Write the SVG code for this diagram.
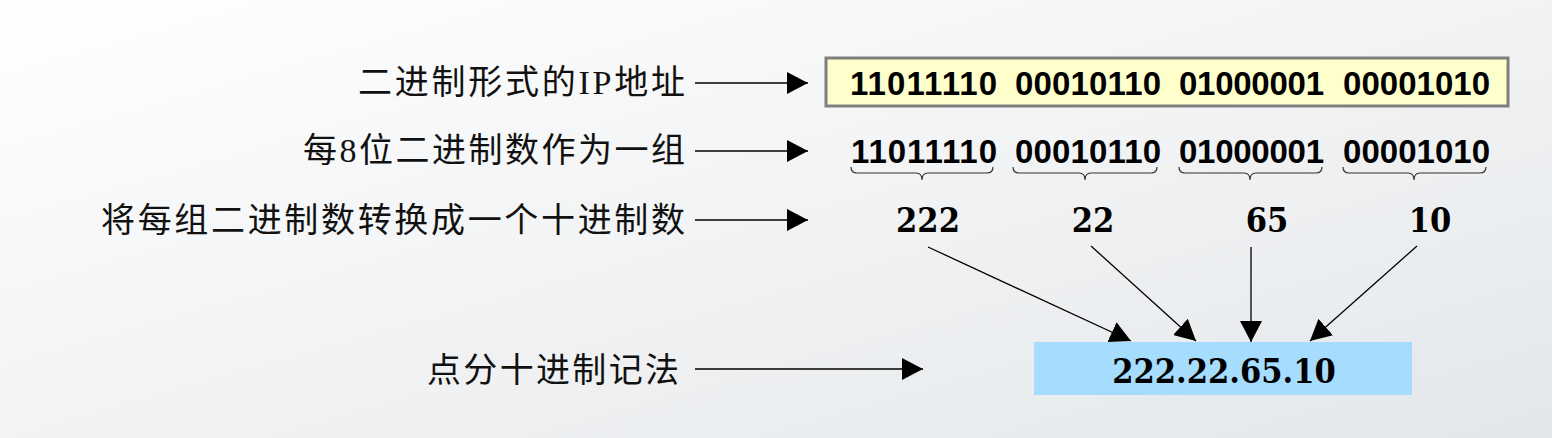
<svg xmlns="http://www.w3.org/2000/svg" width="1552" height="438" viewBox="0 0 1552 438">
<defs>
<linearGradient id="bg" x1="0" y1="0" x2="1" y2="1">
<stop offset="0" stop-color="#ffffff"/>
<stop offset="1" stop-color="#e4e7ea"/>
</linearGradient>
<marker id="ah" markerUnits="userSpaceOnUse" markerWidth="22" markerHeight="22" refX="21" refY="11" orient="auto">
<path d="M0,0 L21,11 L0,22 z" fill="#000"/>
</marker>
</defs>
<style>
.lbl{font-family:"Liberation Serif","Noto Sans CJK SC",serif;font-size:34px;fill:#111;text-anchor:end}
.bin{font-family:"Liberation Sans",Arial,sans-serif;font-weight:bold;font-size:33px;fill:#000}
.dec{font-family:"DejaVu Serif Condensed","DejaVu Serif",serif;font-stretch:condensed;font-weight:bold;font-size:34px;fill:#000;text-anchor:middle}
.ln{stroke:#000;stroke-width:1.3;fill:none;marker-end:url(#ah)}
.brace{stroke:#333;stroke-width:1.2;fill:none}
</style>
<rect x="0" y="0" width="1552" height="438" fill="url(#bg)"/>

<g id="label-binary">
<text class="lbl" x="685" y="94" textLength="327" lengthAdjust="spacing">二进制形式的IP地址</text>
</g>
<g id="label-group">
<text class="lbl" x="685" y="162" textLength="382" lengthAdjust="spacing">每8位二进制数作为一组</text>
</g>
<g id="label-convert">
<text class="lbl" x="685" y="232" textLength="584" lengthAdjust="spacing">将每组二进制数转换成一个十进制数</text>
</g>
<g id="label-dotted">
<text class="lbl" x="679" y="382" textLength="252" lengthAdjust="spacing">点分十进制记法</text>
</g>

<g id="binary-box">
<rect x="826" y="58" width="682" height="48" fill="#ffffcc" stroke="#7f7f7f" stroke-width="3"/>
<text class="bin" x="850" y="95" textLength="147" lengthAdjust="spacing">11011110</text>
<text class="bin" x="1015" y="95" textLength="146" lengthAdjust="spacing">00010110</text>
<text class="bin" x="1179" y="95" textLength="145" lengthAdjust="spacing">01000001</text>
<text class="bin" x="1343" y="95" textLength="147" lengthAdjust="spacing">00001010</text>
</g>

<g id="byte-groups">
<text class="bin" x="851" y="163" textLength="146" lengthAdjust="spacing">11011110</text>
<text class="bin" x="1015" y="163" textLength="146" lengthAdjust="spacing">00010110</text>
<text class="bin" x="1179" y="163" textLength="145" lengthAdjust="spacing">01000001</text>
<text class="bin" x="1343" y="163" textLength="147" lengthAdjust="spacing">00001010</text>
<path class="brace" d="M851,167 Q851,173 857,173 L916,173 Q922,173 922,180 Q922,173 928,173 L987,173 Q993,173 993,167"/>
<path class="brace" d="M1013,167 Q1013,173 1019,173 L1079,173 Q1085,173 1085,180 Q1085,173 1091,173 L1151,173 Q1157,173 1157,167"/>
<path class="brace" d="M1179,167 Q1179,173 1185,173 L1244,173 Q1250,173 1250,180 Q1250,173 1256,173 L1316,173 Q1322,173 1322,167"/>
<path class="brace" d="M1343,167 Q1343,173 1349,173 L1408,173 Q1414,173 1414,180 Q1414,173 1420,173 L1480,173 Q1486,173 1486,167"/>
</g>

<g id="decimal-222"><text class="dec" x="928" y="232">222</text></g>
<g id="decimal-22"><text class="dec" x="1093" y="232">22</text></g>
<g id="decimal-65"><text class="dec" x="1267" y="232">65</text></g>
<g id="decimal-10"><text class="dec" x="1430" y="232">10</text></g>

<g id="dotted-box">
<rect x="1034" y="342" width="378" height="53" fill="#a6dcfd"/>
<text class="dec" x="1224" y="383">222.22.65.10</text>
</g>

<g id="connectors">
<line class="ln" x1="695" y1="83" x2="808" y2="83"/>
<line class="ln" x1="695" y1="151" x2="808" y2="151"/>
<line class="ln" x1="695" y1="220" x2="808" y2="220"/>
<line class="ln" x1="695" y1="369" x2="923" y2="369"/>
<line class="ln" x1="928" y1="247" x2="1131" y2="341"/>
<line class="ln" x1="1091" y1="246" x2="1196" y2="341"/>
<line class="ln" x1="1251" y1="247" x2="1251" y2="342"/>
<line class="ln" x1="1417" y1="246" x2="1310" y2="341"/>
</g>
</svg>
